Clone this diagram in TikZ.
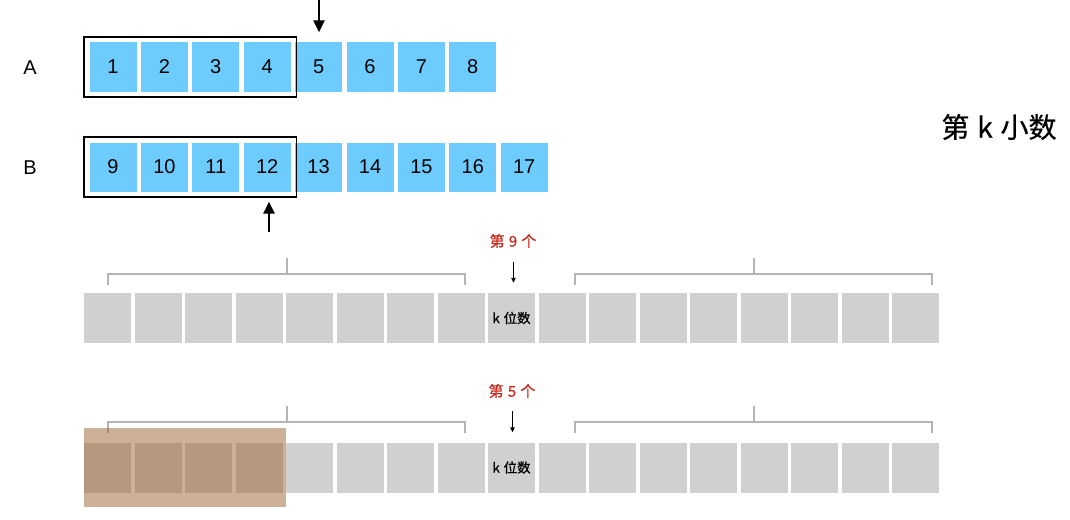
\documentclass[tikz,border=0pt]{standalone}
\usepackage{fontspec}
\setmainfont{Liberation Sans}
\newfontfamily\cjk[FakeBold=0.6]{Noto Sans CJK SC}
\newcommand{\wsp}{\hspace{0.28em}}
\usetikzlibrary{fit,arrows.meta}
\definecolor{cellblue}{RGB}{109,204,253}
\definecolor{cellgray}{RGB}{208,208,208}
\definecolor{brackgray}{RGB}{180,180,180}
\definecolor{labred}{RGB}{200,40,30}
\definecolor{shadebrown}{RGB}{155,100,45}
\tikzset{
  bluecell/.style={fill=cellblue, minimum width=47pt, minimum height=49pt, inner sep=0pt, font=\fontsize{20}{20}\selectfont},
  graycell/.style={fill=cellgray, minimum width=47pt, minimum height=50pt, inner sep=0pt, font=\cjk\fontsize{13.5}{13.5}\selectfont},
  rowlabel/.style={font=\fontsize{20}{20}\selectfont},
  groupbox/.style={draw=black, line width=1.6pt, inner sep=5.5pt},
  bigarrow/.style={line width=2.4pt, -{Triangle[length=12pt,width=11pt]}},
  smallarrow/.style={line width=0.9pt, -{Triangle[length=5pt,width=4.5pt]}},
  bracketline/.style={draw=brackgray, line width=1.3pt},
  redlabel/.style={text=labred, font=\cjk\fontsize{15}{15}\selectfont},
}
\begin{document}
\begin{tikzpicture}[x=1pt, y=-1pt]
\useasboundingbox (0,0) rectangle (1070,519);
% row labels
\node[rowlabel] (labA) at (30,68) {A};
\node[rowlabel] (labB) at (30,168) {B};
% A cells
\foreach \i in {1,...,8} {
  \node[bluecell] (a\i) at ({113+51.4*(\i-1)},67) {\i};
}
% B cells
\foreach \i [evaluate=\i as \n using int(\i+8)] in {1,...,9} {
  \node[bluecell] (b\i) at ({113+51.4*(\i-1)},167) {\n};
}
\node[groupbox, fit=(a1)(a4)] (boxA) {};
\node[groupbox, fit=(b1)(b4)] (boxB) {};
% big arrows
\coordinate (tA) at (319,0);
\draw[bigarrow, shorten >=10pt] (tA) -- (tA |- a5.north);
\coordinate (tB) at (269,232);
\draw[bigarrow, shorten >=10pt] (tB) -- (tB |- b4.south);
% title
\node[font=\cjk\fontsize{28}{28}\selectfont] (title) at (999,127) {第\wsp k\wsp 小数};
% gray row 1
\foreach \j in {1,...,17} {
  \node[graycell] (g\j) at ({107.5+50.5*(\j-1)},318) {};
}
\node[graycell] (g9) at ({107.5+50.5*8},318) {k\wsp 位数};
% gray row 2
\foreach \j in {1,...,17} {
  \node[graycell] (h\j) at ({107.5+50.5*(\j-1)},467.5) {};
}
\node[graycell] (h9) at ({107.5+50.5*8},467.5) {k\wsp 位数};
% brackets row 1
\draw[bracketline] (108,285) |- (465,274) -- (465,285);
\draw[bracketline] (287,274) -- (287,258);
\draw[bracketline] (575,285) |- (932,274) -- (932,285);
\draw[bracketline] (754,274) -- (754,258);
% brackets row 2
\draw[bracketline] (108,433) |- (465,422) -- (465,433);
\draw[bracketline] (287,422) -- (287,406);
\draw[bracketline] (575,433) |- (932,422) -- (932,433);
\draw[bracketline] (754,422) -- (754,406);
% red labels and small arrows
\node[redlabel] (k9) at (513,241) {第\wsp 9\wsp 个};
\coordinate (p9) at (513.5,262);
\draw[smallarrow, shorten >=10pt] (p9) -- (p9 |- g9.north);
\node[redlabel] (k5) at (512,391) {第\wsp 5\wsp 个};
\coordinate (p5) at (512.5,411);
\draw[smallarrow, shorten >=10pt] (p5) -- (p5 |- h9.north);
% shaded overlay
\fill[shadebrown, fill opacity=0.5] (84,428) rectangle (286,507);
\end{tikzpicture}
\end{document}
